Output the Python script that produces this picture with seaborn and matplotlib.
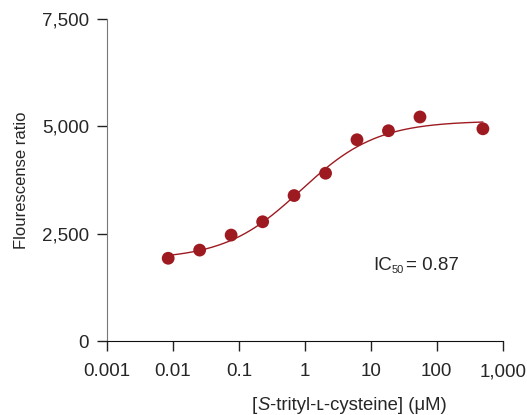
import numpy as np
import pandas as pd
import matplotlib
matplotlib.use("Agg")
import matplotlib.pyplot as plt
from matplotlib import font_manager
import seaborn as sns

conc_um = [0.00847, 0.0254, 0.0762, 0.229, 0.686, 2.06, 6.17, 18.5, 55.6, 500]
ratio = [1930, 2120, 2470, 2780, 3390, 3910, 4690, 4900, 5220, 4945]

# 4-parameter logistic fit shown in the figure
fit_bottom = 1900
fit_top = 5130
fit_ic50 = 0.87
fit_hill = 0.75

x_ticks = [0.001, 0.01, 0.1, 1, 10, 100, 1000]
x_ticklabels = ["0.001", "0.01", "0.1", "1", "10", "100", "1,000"]
y_ticks = [0, 2500, 5000, 7500]
y_ticklabels = ["0", "2,500", "5,000", "7,500"]
xlabel_parts = [("[", "normal"), ("S", "italic"), ("-trityl-ʟ-cysteine] (μM)", "normal")]

red = "#9e1a21"

sns.set_style("ticks")
plt.rcParams["font.family"] = ["Liberation Sans", "DejaVu Sans"]


def italic_family():
    # pick the first sans family that really has an italic face
    for fam in ["Liberation Sans", "Arimo", "Noto Sans", "Open Sans", "Roboto", "Lato", "DejaVu Sans"]:
        try:
            path = font_manager.findfont(
                font_manager.FontProperties(family=fam, style="italic"),
                fallback_to_default=False)
        except Exception:
            continue
        name = path.lower()
        if "italic" in name or "oblique" in name:
            return fam
    return "DejaVu Sans"


points = pd.DataFrame({"conc": conc_um, "ratio": ratio})
xs = np.logspace(np.log10(min(conc_um)), np.log10(max(conc_um)), 300)
curve = pd.DataFrame({
    "conc": xs,
    "ratio": fit_bottom + (fit_top - fit_bottom) / (1 + (fit_ic50 / xs) ** fit_hill),
})

fig = plt.figure(figsize=(5.27, 4.15), dpi=100)
ax = fig.add_axes([0.203, 0.178, 0.751, 0.776])

sns.lineplot(data=curve, x="conc", y="ratio", ax=ax, color=red, linewidth=1.0)
sns.scatterplot(data=points, x="conc", y="ratio", ax=ax, color=red, s=85,
                edgecolor="none", zorder=3)

ax.set_xscale("log")
ax.set_xlim(0.001, 1000)
ax.set_ylim(0, 7500)
ax.set_xticks(x_ticks)
ax.set_xticklabels(x_ticklabels)
ax.minorticks_off()
ax.set_yticks(y_ticks)
ax.set_yticklabels(y_ticklabels)
ax.tick_params(axis="both", labelsize=13.5, length=7, width=1, color="#222222")
ax.tick_params(axis="y", pad=6)
ax.tick_params(axis="x", pad=9)

for side in ["top", "right"]:
    ax.spines[side].set_visible(False)
ax.spines["left"].set_color("#777777")
ax.spines["bottom"].set_color("#111111")

ax.set_ylabel("Flourescense ratio", fontsize=12)
ax.yaxis.set_label_coords(-0.198, 0.5)
ax.set_xlabel("")

# x label assembled piecewise so the S can be italic
renderer = fig.canvas.get_renderer()
it_fam = italic_family()
x_px = 252
for txt, style in xlabel_parts:
    kw = {"family": [it_fam, "DejaVu Sans"]} if style == "italic" else {}
    t = fig.text(x_px / 527, 1 - 410 / 415, txt, fontsize=13.3, style=style,
                 va="baseline", ha="left", **kw)
    x_px += t.get_window_extent(renderer).width

# IC50 annotation
fig.text(373 / 527, 1 - 265 / 415, "IC", fontsize=13.5, va="center", ha="left")
ax.annotate("50", xy=(373 / 527, 1 - 265 / 415), xycoords="figure fraction",
            xytext=(19, -5), textcoords="offset pixels", fontsize=8,
            va="center", ha="left")
ax.annotate("= 0.87", xy=(373 / 527, 1 - 265 / 415), xycoords="figure fraction",
            xytext=(33, 0), textcoords="offset pixels", fontsize=13.5,
            va="center", ha="left")

fig.savefig("out.png", dpi=100)
